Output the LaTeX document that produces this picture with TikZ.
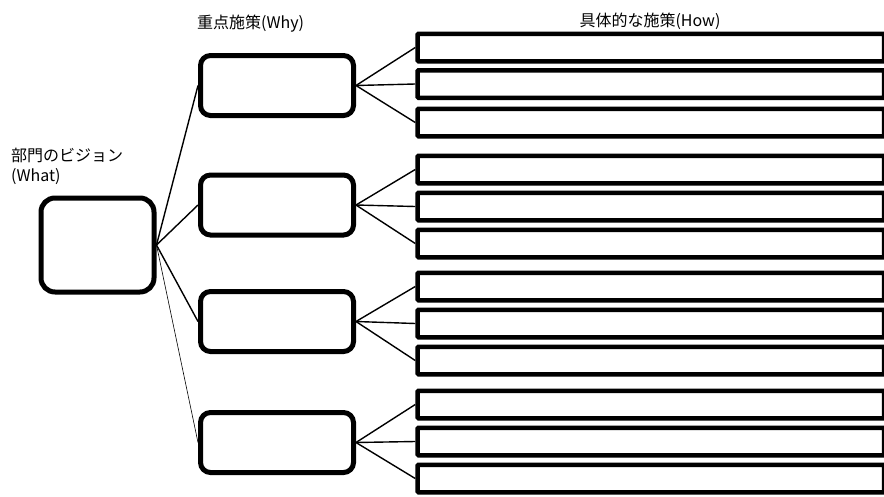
\documentclass[tikz,border=0pt]{standalone}
\usepackage{fontspec}
\setmainfont{Noto Sans CJK JP}
\begin{document}
\begin{tikzpicture}[x=1pt,y=-1pt,
  visionbox/.style={draw,line width=5pt,rounded corners=14pt,minimum width=113pt,minimum height=94pt,inner sep=0pt},
  whybox/.style={draw,line width=5pt,rounded corners=10pt,minimum width=153pt,minimum height=60pt,inner sep=0pt},
  howbox/.style={draw,line width=4.5pt,rounded corners=1pt,minimum width=466.5pt,minimum height=27.5pt,inner sep=0pt},
  conn/.style={line width=1.4pt},
  thinconn/.style={line width=0.6pt},
  lbl/.style={font=\fontsize{16}{19}\selectfont,inner sep=0pt}]
\useasboundingbox (0,0) rectangle (884,496);
% labels
\node[lbl,anchor=west] (tvision) at (11,155) {部門のビジョン};
\node[lbl,anchor=west] (twhat) at (11,177) {(What)};
\node[lbl,anchor=west] (twhy) at (197,24) {重点施策(Why)};
\node[lbl] (thow) at (650,21) {具体的な施策(How)};
% vision
\node[visionbox] (v) at (97.5,245) {};
% why boxes
\node[whybox] (w1) at (277,85.5) {};
\node[whybox] (w2) at (277,205) {};
\node[whybox] (w3) at (277,321.5) {};
\node[whybox] (w4) at (277,442.5) {};
% how boxes
\node[howbox] (h11) at (650.75,47.5) {};
\node[howbox] (h12) at (650.75,84) {};
\node[howbox] (h13) at (650.75,122.5) {};
\node[howbox] (h21) at (650.75,169.5) {};
\node[howbox] (h22) at (650.75,206.5) {};
\node[howbox] (h23) at (650.75,243.5) {};
\node[howbox] (h31) at (650.75,286.5) {};
\node[howbox] (h32) at (650.75,323.5) {};
\node[howbox] (h33) at (650.75,360.5) {};
\node[howbox] (h41) at (650.75,404.5) {};
\node[howbox] (h42) at (650.75,441.5) {};
\node[howbox] (h43) at (650.75,478.5) {};
% connectors vision -> why
\draw[conn] (v.east) -- (w1.west);
\draw[conn] (v.east) -- (w2.west);
\draw[conn] (v.east) -- (w3.west);
\draw[thinconn] (v.east) -- (w4.west);
% connectors why -> how
\foreach \g in {1,2,3,4}{
  \foreach \k in {1,2,3}{
    \draw[conn] (w\g.east) -- (h\g\k.west);
  }
}
\end{tikzpicture}
\end{document}
